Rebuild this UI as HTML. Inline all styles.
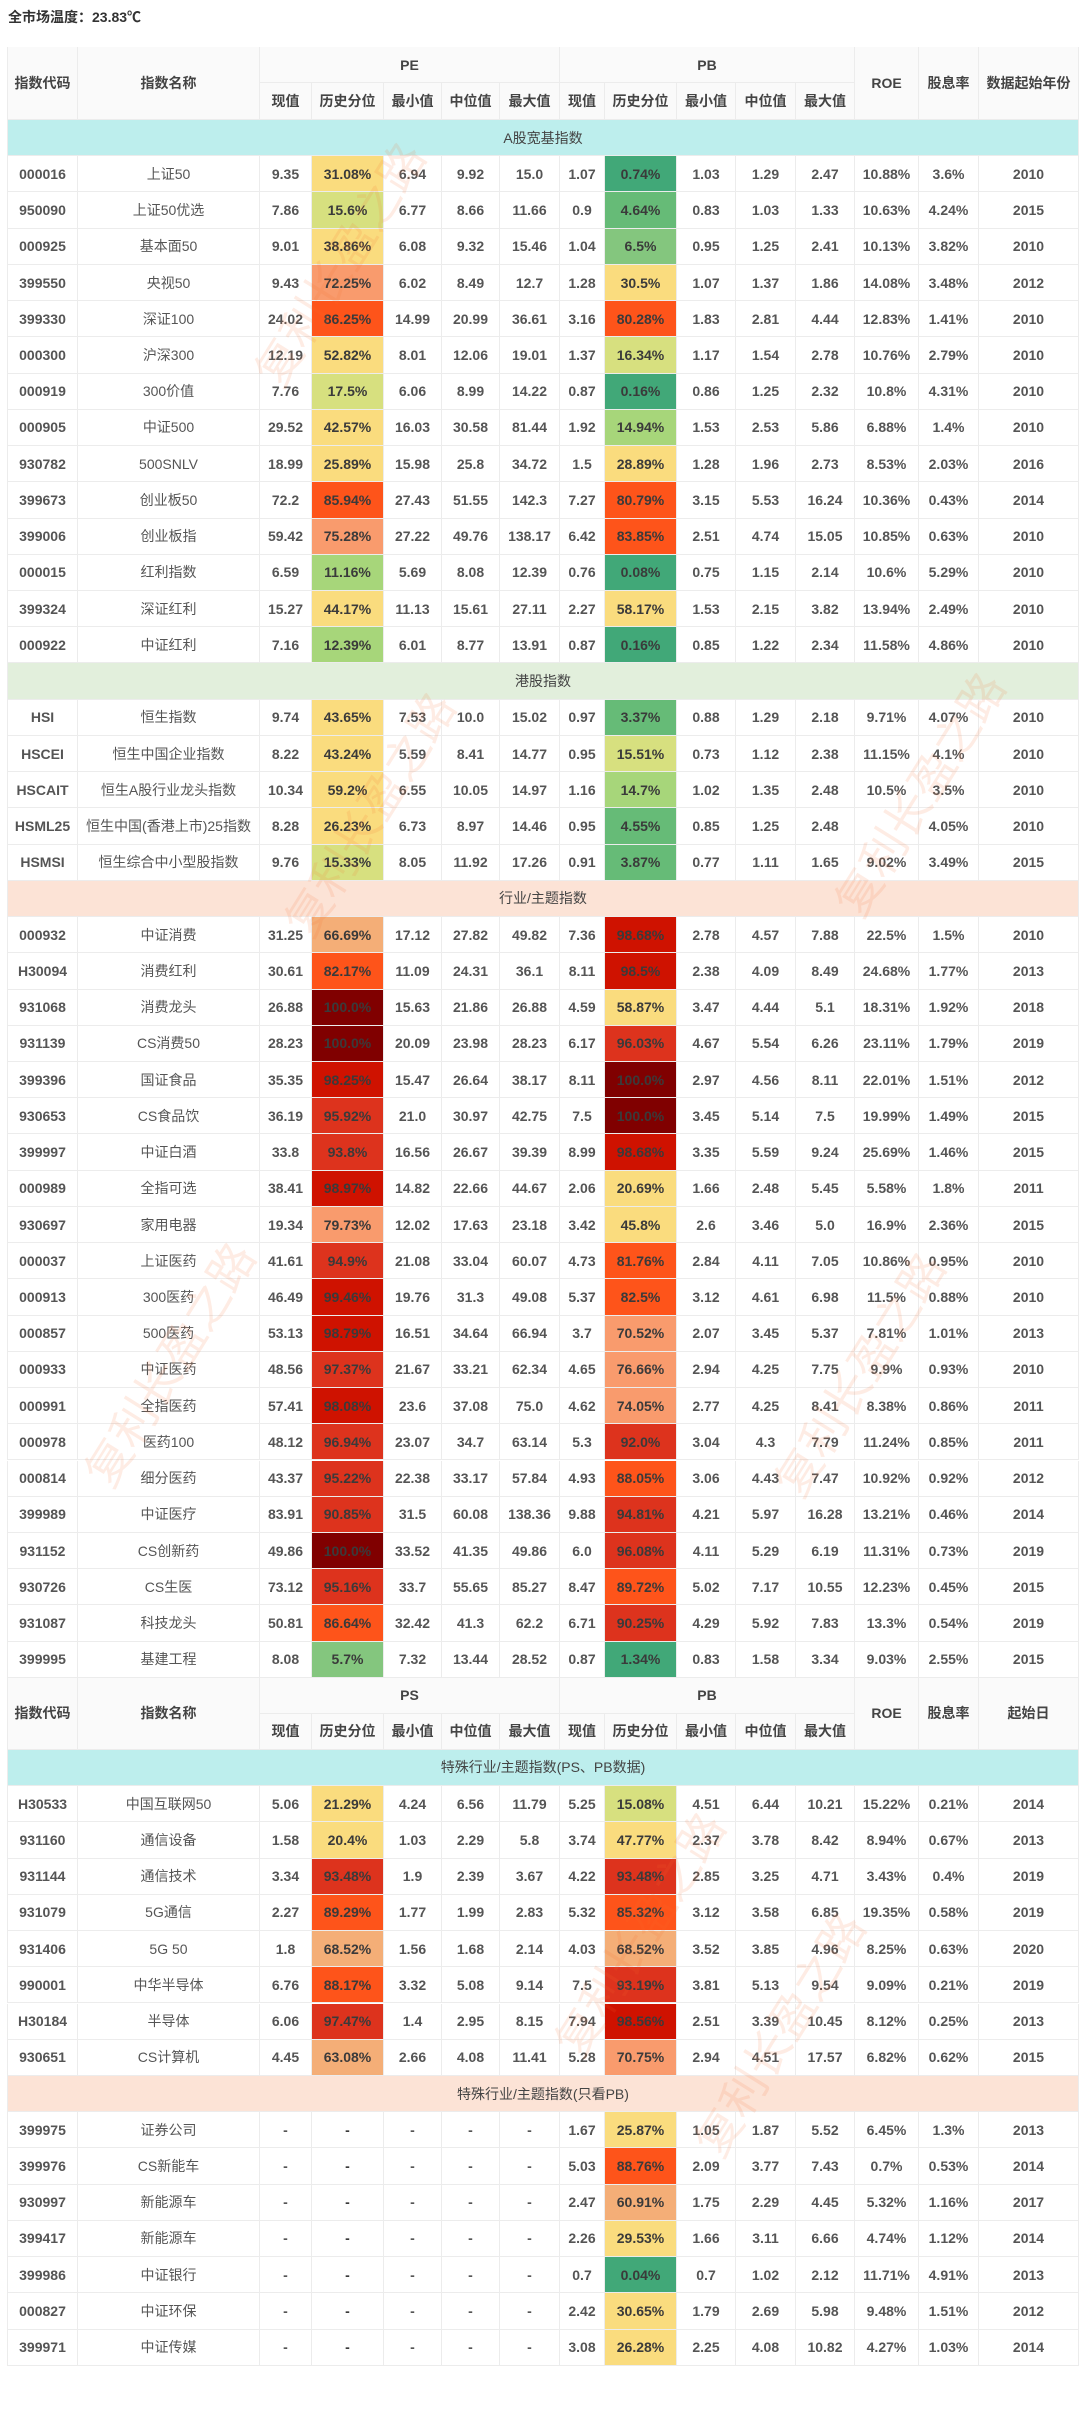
<!DOCTYPE html>
<html><head><meta charset="utf-8">
<style>
html,body{margin:0;padding:0;background:#fff;}
body{width:1080px;height:2428px;position:relative;overflow:hidden;font-family:"Liberation Sans","Noto Sans CJK SC",sans-serif;color:#555;}
#title{position:absolute;left:8px;top:7px;font-size:14px;font-weight:bold;color:#333;}
.c{position:absolute;box-sizing:border-box;border-right:1px solid #ececec;border-bottom:1px solid #ececec;display:flex;align-items:center;justify-content:center;font-size:14px;white-space:nowrap;overflow:hidden;}
.h{background:#fafafa;font-weight:bold;color:#444;}
.n{font-weight:bold;}
.p{font-weight:bold;color:#3a3a3a;}
.s{font-size:14px;color:#444;border-left:1px solid #ececec;}
.wm{position:absolute;font-size:46px;color:rgba(250,110,50,0.13);transform:rotate(-58deg);white-space:nowrap;pointer-events:none;font-family:"Noto Sans CJK SC",sans-serif;}
</style></head><body>
<div id="title">全市场温度：23.83℃</div>
<div id="tbl"></div>
<script>
// Data arrays: [code, name, cur, pct, min, med, max, pbCur, pbPct, pbMin, pbMed, pbMax, roe, div, year]
const aShareRows = [
["000016","上证50","9.35","31.08%","6.94","9.92","15.0","1.07","0.74%","1.03","1.29","2.47","10.88%","3.6%","2010"],
["950090","上证50优选","7.86","15.6%","6.77","8.66","11.66","0.9","4.64%","0.83","1.03","1.33","10.63%","4.24%","2015"],
["000925","基本面50","9.01","38.86%","6.08","9.32","15.46","1.04","6.5%","0.95","1.25","2.41","10.13%","3.82%","2010"],
["399550","央视50","9.43","72.25%","6.02","8.49","12.7","1.28","30.5%","1.07","1.37","1.86","14.08%","3.48%","2012"],
["399330","深证100","24.02","86.25%","14.99","20.99","36.61","3.16","80.28%","1.83","2.81","4.44","12.83%","1.41%","2010"],
["000300","沪深300","12.19","52.82%","8.01","12.06","19.01","1.37","16.34%","1.17","1.54","2.78","10.76%","2.79%","2010"],
["000919","300价值","7.76","17.5%","6.06","8.99","14.22","0.87","0.16%","0.86","1.25","2.32","10.8%","4.31%","2010"],
["000905","中证500","29.52","42.57%","16.03","30.58","81.44","1.92","14.94%","1.53","2.53","5.86","6.88%","1.4%","2010"],
["930782","500SNLV","18.99","25.89%","15.98","25.8","34.72","1.5","28.89%","1.28","1.96","2.73","8.53%","2.03%","2016"],
["399673","创业板50","72.2","85.94%","27.43","51.55","142.3","7.27","80.79%","3.15","5.53","16.24","10.36%","0.43%","2014"],
["399006","创业板指","59.42","75.28%","27.22","49.76","138.17","6.42","83.85%","2.51","4.74","15.05","10.85%","0.63%","2010"],
["000015","红利指数","6.59","11.16%","5.69","8.08","12.39","0.76","0.08%","0.75","1.15","2.14","10.6%","5.29%","2010"],
["399324","深证红利","15.27","44.17%","11.13","15.61","27.11","2.27","58.17%","1.53","2.15","3.82","13.94%","2.49%","2010"],
["000922","中证红利","7.16","12.39%","6.01","8.77","13.91","0.87","0.16%","0.85","1.22","2.34","11.58%","4.86%","2010"]];
const hkRows = [
["HSI","恒生指数","9.74","43.65%","7.53","10.0","15.02","0.97","3.37%","0.88","1.29","2.18","9.71%","4.07%","2010"],
["HSCEI","恒生中国企业指数","8.22","43.24%","5.59","8.41","14.77","0.95","15.51%","0.73","1.12","2.38","11.15%","4.1%","2010"],
["HSCAIT","恒生A股行业龙头指数","10.34","59.2%","6.55","10.05","14.97","1.16","14.7%","1.02","1.35","2.48","10.5%","3.5%","2010"],
["HSML25","恒生中国(香港上市)25指数","8.28","26.23%","6.73","8.97","14.46","0.95","4.55%","0.85","1.25","2.48","","4.05%","2010"],
["HSMSI","恒生综合中小型股指数","9.76","15.33%","8.05","11.92","17.26","0.91","3.87%","0.77","1.11","1.65","9.02%","3.49%","2015"]];
const industryRows = [
["000932","中证消费","31.25","66.69%","17.12","27.82","49.82","7.36","98.68%","2.78","4.57","7.88","22.5%","1.5%","2010"],
["H30094","消费红利","30.61","82.17%","11.09","24.31","36.1","8.11","98.5%","2.38","4.09","8.49","24.68%","1.77%","2013"],
["931068","消费龙头","26.88","100.0%","15.63","21.86","26.88","4.59","58.87%","3.47","4.44","5.1","18.31%","1.92%","2018"],
["931139","CS消费50","28.23","100.0%","20.09","23.98","28.23","6.17","96.03%","4.67","5.54","6.26","23.11%","1.79%","2019"],
["399396","国证食品","35.35","98.25%","15.47","26.64","38.17","8.11","100.0%","2.97","4.56","8.11","22.01%","1.51%","2012"],
["930653","CS食品饮","36.19","95.92%","21.0","30.97","42.75","7.5","100.0%","3.45","5.14","7.5","19.99%","1.49%","2015"],
["399997","中证白酒","33.8","93.8%","16.56","26.67","39.39","8.99","98.68%","3.35","5.59","9.24","25.69%","1.46%","2015"],
["000989","全指可选","38.41","98.97%","14.82","22.66","44.67","2.06","20.69%","1.66","2.48","5.45","5.58%","1.8%","2011"],
["930697","家用电器","19.34","79.73%","12.02","17.63","23.18","3.42","45.8%","2.6","3.46","5.0","16.9%","2.36%","2015"],
["000037","上证医药","41.61","94.9%","21.08","33.04","60.07","4.73","81.76%","2.84","4.11","7.05","10.86%","0.95%","2010"],
["000913","300医药","46.49","99.46%","19.76","31.3","49.08","5.37","82.5%","3.12","4.61","6.98","11.5%","0.88%","2010"],
["000857","500医药","53.13","98.79%","16.51","34.64","66.94","3.7","70.52%","2.07","3.45","5.37","7.81%","1.01%","2013"],
["000933","中证医药","48.56","97.37%","21.67","33.21","62.34","4.65","76.66%","2.94","4.25","7.75","9.9%","0.93%","2010"],
["000991","全指医药","57.41","98.08%","23.6","37.08","75.0","4.62","74.05%","2.77","4.25","8.41","8.38%","0.86%","2011"],
["000978","医药100","48.12","96.94%","23.07","34.7","63.14","5.3","92.0%","3.04","4.3","7.79","11.24%","0.85%","2011"],
["000814","细分医药","43.37","95.22%","22.38","33.17","57.84","4.93","88.05%","3.06","4.43","7.47","10.92%","0.92%","2012"],
["399989","中证医疗","83.91","90.85%","31.5","60.08","138.36","9.88","94.81%","4.21","5.97","16.28","13.21%","0.46%","2014"],
["931152","CS创新药","49.86","100.0%","33.52","41.35","49.86","6.0","96.08%","4.11","5.29","6.19","11.31%","0.73%","2019"],
["930726","CS生医","73.12","95.16%","33.7","55.65","85.27","8.47","89.72%","5.02","7.17","10.55","12.23%","0.45%","2015"],
["931087","科技龙头","50.81","86.64%","32.42","41.3","62.2","6.71","90.25%","4.29","5.92","7.83","13.3%","0.54%","2019"],
["399995","基建工程","8.08","5.7%","7.32","13.44","28.52","0.87","1.34%","0.83","1.58","3.34","9.03%","2.55%","2015"]];
const psRows = [
["H30533","中国互联网50","5.06","21.29%","4.24","6.56","11.79","5.25","15.08%","4.51","6.44","10.21","15.22%","0.21%","2014"],
["931160","通信设备","1.58","20.4%","1.03","2.29","5.8","3.74","47.77%","2.37","3.78","8.42","8.94%","0.67%","2013"],
["931144","通信技术","3.34","93.48%","1.9","2.39","3.67","4.22","93.48%","2.85","3.25","4.71","3.43%","0.4%","2019"],
["931079","5G通信","2.27","89.29%","1.77","1.99","2.83","5.32","85.32%","3.12","3.58","6.85","19.35%","0.58%","2019"],
["931406","5G 50","1.8","68.52%","1.56","1.68","2.14","4.03","68.52%","3.52","3.85","4.96","8.25%","0.63%","2020"],
["990001","中华半导体","6.76","88.17%","3.32","5.08","9.14","7.5","93.19%","3.81","5.13","9.54","9.09%","0.21%","2019"],
["H30184","半导体","6.06","97.47%","1.4","2.95","8.15","7.94","98.56%","2.51","3.39","10.45","8.12%","0.25%","2013"],
["930651","CS计算机","4.45","63.08%","2.66","4.08","11.41","5.28","70.75%","2.94","4.51","17.57","6.82%","0.62%","2015"]];
const pbOnlyRows = [
["399975","证券公司","-","-","-","-","-","1.67","25.87%","1.05","1.87","5.52","6.45%","1.3%","2013"],
["399976","CS新能车","-","-","-","-","-","5.03","88.76%","2.09","3.77","7.43","0.7%","0.53%","2014"],
["930997","新能源车","-","-","-","-","-","2.47","60.91%","1.75","2.29","4.45","5.32%","1.16%","2017"],
["399417","新能源车","-","-","-","-","-","2.26","29.53%","1.66","3.11","6.66","4.74%","1.12%","2014"],
["399986","中证银行","-","-","-","-","-","0.7","0.04%","0.7","1.02","2.12","11.71%","4.91%","2013"],
["000827","中证环保","-","-","-","-","-","2.42","30.65%","1.79","2.69","5.98","9.48%","1.51%","2012"],
["399971","中证传媒","-","-","-","-","-","3.08","26.28%","2.25","4.08","10.82","4.27%","1.03%","2014"]];

const X=[7,78,260,312,384,442,500,560,605,677,736,796,855,919,979,1079];
const U=36.23;
const root=document.body;
function pctColor(s){
  const v=parseFloat(s); if(isNaN(v)) return null;
  if(v>=100) return '#800000';
  if(v>=98) return '#cf1200';
  if(v>=90) return '#dd331d';
  if(v>=80) return '#fe541a';
  if(v>=70) return '#f99b6d';
  if(v>=60) return '#f4ae77';
  if(v>=20) return '#fadc7e';
  if(v>=15) return '#d7e07f';
  if(v>=10) return '#a7d67a';
  if(v>=5) return '#84c67e';
  if(v>=2.5) return '#66bb77';
  return '#41a878';
}
function cell(x1,x2,y1,y2,txt,cls,bg){
  const d=document.createElement('div');
  d.className='c '+(cls||'');
  d.style.left=x1+'px';d.style.width=(x2-x1)+'px';
  d.style.top=y1+'px';d.style.height=(y2-y1)+'px';
  if(bg) d.style.background=bg;
  d.textContent=txt;
  root.appendChild(d);
  return d;
}
function header(y,h,a,b,last){
  const mid=y+36;
  let d;
  d=cell(X[0],X[1],y,y+h,'指数代码','h');d.style.borderLeft='1px solid #ececec';
  
  
  d=cell(X[1],X[2],y,y+h,'指数名称','h');
  
  
  d=cell(X[2],X[7],y,mid,a,'h');
  
  
  d=cell(X[7],X[12],y,mid,b,'h');
  
  
  const subs=['现值','历史分位','最小值','中位值','最大值'];
  for(let g=0;g<2;g++)for(let i=0;i<5;i++){
    d=cell(X[2+g*5+i],X[3+g*5+i],mid,y+h,subs[i],'h');
    
    
  }
  d=cell(X[12],X[13],y,y+h,'ROE','h');
  
  
  d=cell(X[13],X[14],y,y+h,'股息率','h');
  
  
  d=cell(X[14],X[15],y,y+h,last,'h');
  
  
}
function section(y,txt,bg,name){
  const d=cell(X[0],X[15],y,y+U,txt,'s',bg);
  
  
}
function rows(y,data,prefix){
  data.forEach((r,ri)=>{
    const y1=y+ri*U,y2=y1+U;
    for(let i=0;i<15;i++){
      let cls=(i===1)?'':'n', bg=null;
      if(i===3||i===8){bg=pctColor(r[i]);cls='p';}
      const d=cell(X[i],X[i+1],y1,y2,r[i],cls,bg);
      if(i===0) d.style.borderLeft='1px solid #ececec';
      
      
    }
  });
  return y+data.length*U;
}
let y=47;
header(y,73,'PE','PB','数据起始年份');
y=120;
section(y,'A股宽基指数','#bdeeed','section-a-share');y+=U;
y=rows(y,aShareRows,'a-share');
section(y,'港股指数','#e2efdc','section-hk');y+=U;
y=rows(y,hkRows,'hk');
section(y,'行业/主题指数','#fce3d6','section-industry');y+=U;
y=rows(y,industryRows,'industry');
header(y,72,'PS','PB','起始日');y+=72;
section(y,'特殊行业/主题指数(PS、PB数据)','#bdeeed','section-ps-pb');y+=U;
y=rows(y,psRows,'ps');
section(y,'特殊行业/主题指数(只看PB)','#fce3d6','section-pb-only');y+=U;
y=rows(y,pbOnlyRows,'pb-only');
// watermarks
const wms=[[200,230],[230,780],[780,760],[30,1330],[720,1340],[500,1900],[640,2000]];
wms.forEach((p,i)=>{
  const w=document.createElement('div');
  w.className='wm';w.textContent='复利长盈之路';
  w.style.left=p[0]+'px';w.style.top=p[1]+'px';
  
  
  root.appendChild(w);
});
</script>
</body></html>
